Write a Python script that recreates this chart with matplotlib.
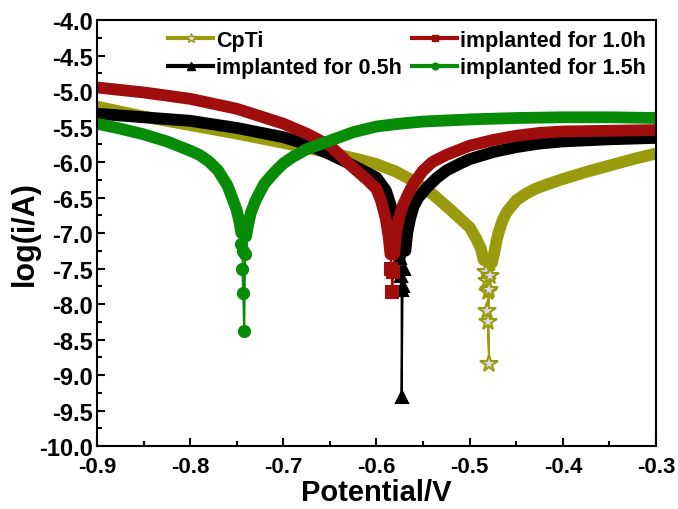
"""Tafel polarisation curves: CpTi and implanted samples."""
import matplotlib
matplotlib.use("Agg")
import matplotlib.pyplot as plt
from matplotlib.lines import Line2D
import numpy as np

# Data (potential in V, log current).
cpti_e = [-0.90, -0.85, -0.80, -0.75, -0.70, -0.65, -0.62, -0.60, -0.58,
          -0.56, -0.54, -0.52, -0.51, -0.50, -0.493, -0.488, -0.485,
          -0.482, -0.481, -0.480, -0.481, -0.479, -0.480, -0.479, -0.478,
          -0.476, -0.474, -0.471, -0.468, -0.464, -0.46, -0.455, -0.45,
          -0.44, -0.43, -0.42, -0.40, -0.375, -0.35, -0.325, -0.30]
cpti_logi = [-5.22, -5.36, -5.48, -5.60, -5.73, -5.87, -5.96, -6.03, -6.13,
             -6.27, -6.45, -6.68, -6.80, -6.92, -7.08, -7.22, -7.38,
             -7.55, -7.68, -7.83, -8.10, -8.85, -8.25, -7.80, -7.60,
             -7.42, -7.30, -7.10, -6.95, -6.80, -6.70, -6.62, -6.54,
             -6.45, -6.38, -6.33, -6.24, -6.14, -6.05, -5.96, -5.88]

h05_e = [-0.90, -0.85, -0.80, -0.75, -0.70, -0.675, -0.65, -0.625, -0.60,
         -0.59, -0.585, -0.58, -0.577, -0.575, -0.574, -0.573, -0.573,
         -0.572, -0.571, -0.569, -0.567, -0.564, -0.56, -0.555, -0.546,
         -0.535, -0.525, -0.51, -0.50, -0.475, -0.45, -0.425, -0.40,
         -0.35, -0.30]
h05_logi = [-5.32, -5.37, -5.42, -5.52, -5.65, -5.75, -5.89, -6.05, -6.22,
            -6.40, -6.60, -6.90, -7.15, -7.35, -7.60, -7.80, -9.31,
            -7.75, -7.50, -7.25, -7.00, -6.80, -6.62, -6.50, -6.36,
            -6.22, -6.12, -6.02, -5.96, -5.86, -5.79, -5.74, -5.71,
            -5.68, -5.66]

h10_e = [-0.90, -0.85, -0.80, -0.75, -0.70, -0.675, -0.65, -0.625, -0.61,
         -0.60, -0.595, -0.59, -0.587, -0.585, -0.584, -0.583, -0.582,
         -0.581, -0.579, -0.576, -0.572, -0.566, -0.56, -0.55, -0.54,
         -0.525, -0.50, -0.475, -0.45, -0.425, -0.40, -0.35, -0.30]
h10_logi = [-4.95, -5.02, -5.11, -5.25, -5.46, -5.60, -5.77, -6.08, -6.25,
            -6.38, -6.55, -6.80, -7.05, -7.30, -7.50, -7.83, -7.55,
            -7.30, -7.00, -6.80, -6.62, -6.45, -6.30, -6.12, -6.00,
            -5.90, -5.77, -5.69, -5.63, -5.59, -5.57, -5.56, -5.55]

h15_e = [-0.90, -0.875, -0.85, -0.825, -0.80, -0.79, -0.78, -0.77, -0.76,
         -0.755, -0.75, -0.747, -0.745, -0.745, -0.743, -0.744, -0.743,
         -0.742, -0.741, -0.740, -0.738, -0.735, -0.73, -0.725, -0.72,
         -0.71, -0.70, -0.69, -0.675, -0.65, -0.625, -0.60, -0.575, -0.55,
         -0.50, -0.45, -0.40, -0.35, -0.30]
h15_logi = [-5.46, -5.53, -5.61, -5.71, -5.84, -5.90, -5.99, -6.12, -6.33,
            -6.50, -6.68, -6.85, -7.00, -7.15, -7.25, -7.50, -7.85,
            -8.38, -7.30, -7.05, -6.90, -6.72, -6.55, -6.42, -6.30,
            -6.15, -6.02, -5.93, -5.82, -5.70, -5.58, -5.50, -5.46, -5.43,
            -5.40, -5.38, -5.37, -5.37, -5.38]

labels = ["CpTi", "implanted for 0.5h", "implanted for 1.0h",
          "implanted for 1.5h"]

# Styles: colour, marker, marker size, marker face, level below which
# the single markers show instead of the dense band.
styles = [
    dict(color="#999a0c", marker="*", ms=13, mfc="#ddd8e8", floor=-7.45),
    dict(color="black", marker="^", ms=9, mfc="black", floor=-7.3),
    dict(color="#a00d0d", marker="s", ms=8, mfc="#a00d0d", floor=-7.3),
    dict(color="#078c07", marker="o", ms=8, mfc="#078c07", floor=-7.05),
]

series = [(cpti_e, cpti_logi), (h05_e, h05_logi), (h10_e, h10_logi),
          (h15_e, h15_logi)]

plt.rcParams.update({'font.family': 'Liberation Sans',
                     'font.weight': 'bold'})

fig = plt.figure(figsize=(6.78, 5.10), dpi=100)
ax = fig.add_axes([0.143, 0.1235, 0.8246, 0.8353])

for (e, logi), st in zip(series, styles):
    e = np.array(e)
    logi = np.array(logi)
    dense = logi >= st["floor"]
    # Dense band of overlapping markers -> thick line.
    ax.plot(e[dense], logi[dense], color=st["color"], lw=8.5,
            solid_capstyle="butt", solid_joinstyle="round")
    # Thin connecting line with the single markers near Ecorr.
    ax.plot(e, logi, color=st["color"], lw=1.5, marker=st["marker"],
            ms=st["ms"], mfc=st["mfc"], mec=st["color"], mew=1.5,
            markevery=list(~dense))

ax.set_xlim(-0.9, -0.3)
ax.set_ylim(-10.0, -4.0)
ax.set_xticks(np.arange(-0.9, -0.29, 0.1))
ax.set_xticks(np.arange(-0.85, -0.3, 0.1), minor=True)
ax.set_yticks(np.arange(-10.0, -3.99, 0.5))
ax.set_yticks(np.arange(-9.75, -4.0, 0.5), minor=True)
ax.set_xticklabels(["%.1f" % v for v in np.arange(-0.9, -0.29, 0.1)])
ax.set_yticklabels(["%.1f" % v for v in np.arange(-10.0, -3.99, 0.5)])
ax.tick_params(which="both", direction="in", width=1.5)
ax.tick_params(which="major", length=6)
ax.tick_params(which="minor", length=3.5)
ax.tick_params(axis="x", labelsize=16, pad=7)
ax.tick_params(axis="y", labelsize=17, pad=3)
for sp in ax.spines.values():
    sp.set_linewidth(1.5)

ax.set_xlabel("Potential/V", fontsize=21, fontweight="bold", labelpad=1)
ax.set_ylabel("log(i/A)", fontsize=22, fontweight="bold", labelpad=-1)

handles = [Line2D([], [], color=st["color"], lw=3, marker=st["marker"],
                  ms=st["ms"] * 0.6, mfc=st["mfc"], mec=st["color"])
           for st in styles]
ax.legend(handles, labels, ncol=2, loc="upper right",
          bbox_to_anchor=(1.0, 1.0), frameon=False,
          handlelength=2.1, handletextpad=0.15, columnspacing=0.45,
          labelspacing=0.3, borderaxespad=0.15, borderpad=0.3,
          prop={'weight': 'bold', 'size': 15.5})

plt.savefig("out.png", dpi=100)
